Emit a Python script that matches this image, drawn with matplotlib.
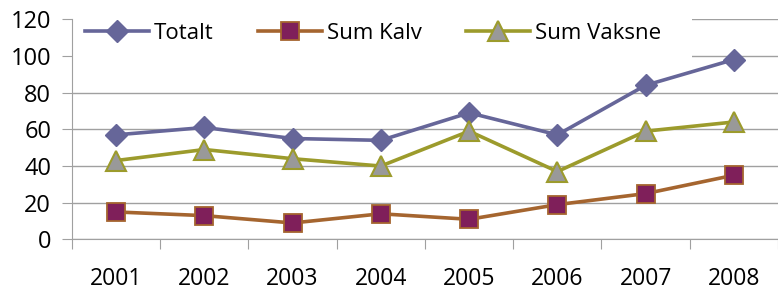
import matplotlib
matplotlib.use("Agg")
import matplotlib.pyplot as plt
from matplotlib.patches import Rectangle

years = ["2001", "2002", "2003", "2004", "2005", "2006", "2007", "2008"]
totalt = [57, 61, 55, 54, 69, 57, 84, 98]
sum_kalv = [15, 13, 9, 14, 11, 19, 25, 35]
sum_vaksne = [43, 49, 44, 40, 59, 37, 59, 64]
yticks = [0, 20, 40, 60, 80, 100, 120]

fig = plt.figure(figsize=(7.78, 2.93), dpi=100)
ax = fig.add_axes([0.0925, 0.1826, 0.9075, 0.752])

x = list(range(len(years)))
ax.plot(x, totalt, "-", color="#666699", lw=2.6, marker="D", ms=11.5,
        mfc="#666699", mec="#666699", label="Totalt", zorder=3)
ax.plot(x, sum_kalv, "-", color="#A5652F", lw=2.6, marker="s", ms=13,
        mfc="#7F1F5A", mec="#A5652F", mew=1.3, label="Sum Kalv", zorder=3)
ax.plot(x, sum_vaksne, "-", color="#9C9B2C", lw=2.6, marker="^", ms=15,
        mfc="#999999", mec="#9C9B2C", mew=1.5, label="Sum Vaksne", zorder=3)

ax.set_xlim(-0.5, len(years) - 0.5)
ax.set_ylim(0, 120)
ax.set_yticks(yticks)
ax.set_yticklabels([str(v) for v in yticks], fontsize=17, family="Open Sans")
ax.set_xticks([i - 0.5 for i in range(len(years) + 1)])
ax.set_xticklabels([])
ax.set_xticks(x, minor=True)
ax.set_xticklabels(years, minor=True, fontsize=16.5, family="Open Sans")
ax.tick_params(axis="x", which="major", direction="out", length=7, color="#A0A0A0")
ax.tick_params(axis="x", which="minor", length=0, pad=20)
ax.tick_params(axis="y", direction="out", length=7, color="#A0A0A0", pad=8)

ax.grid(True, axis="y", color="#A0A0A0", lw=1)
ax.set_axisbelow(True)
for s in ["top", "right"]:
    ax.spines[s].set_visible(False)
ax.spines["left"].set_color("#A0A0A0")
ax.spines["bottom"].set_color("#A0A0A0")

# white legend area hides the upper gridlines
ax.add_patch(Rectangle((0.002, 0.76), 0.876, 0.26, transform=ax.transAxes,
                       facecolor="white", edgecolor="none", zorder=1,
                       clip_on=False))

ax.legend(loc="center left", ncol=3, frameon=False,
          bbox_to_anchor=(0.018, 0.9365), borderpad=0, borderaxespad=0,
          handlelength=2.9, columnspacing=2.0, handletextpad=0.2,
          prop={"family": "Open Sans", "size": 16})

fig.savefig("out.png", dpi=100)
